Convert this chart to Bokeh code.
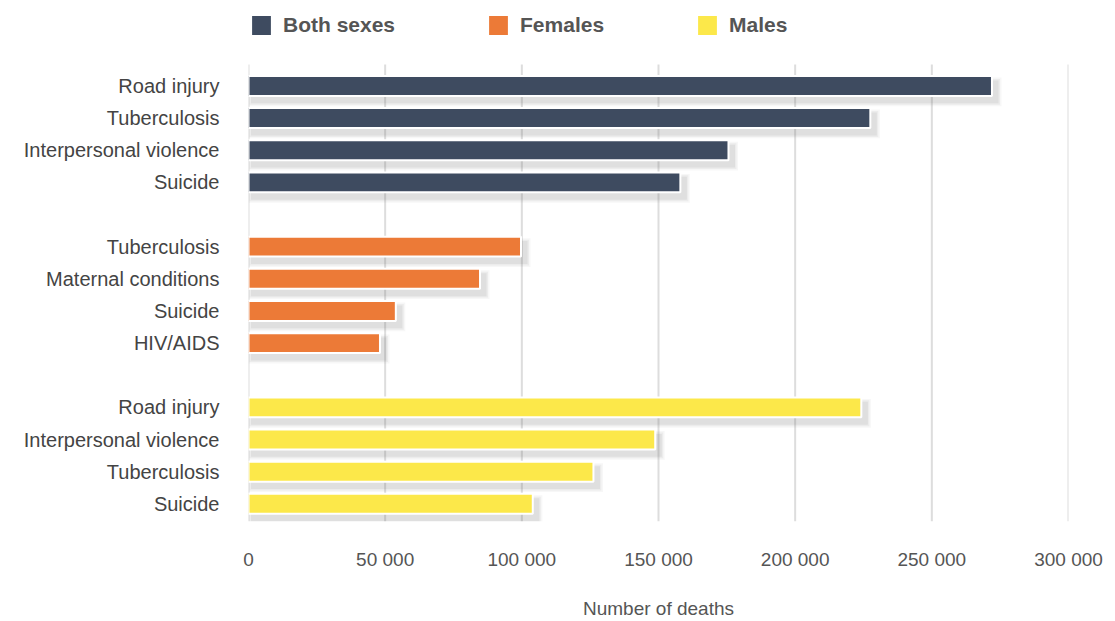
from bokeh.plotting import figure
from bokeh.models import ColumnDataSource, FixedTicker, Range1d, Legend, LegendItem
from bokeh.embed import file_html
from bokeh.resources import INLINE

# ---- data ----
groups = ["Both sexes", "Females", "Males"]
group_colors = ["#3e4b60", "#ec7a37", "#fce84a"]

both_causes = ["Road injury", "Tuberculosis", "Interpersonal violence", "Suicide"]
both_deaths = [272000, 227500, 175600, 158000]

female_causes = ["Tuberculosis", "Maternal conditions", "Suicide", "HIV/AIDS"]
female_deaths = [99700, 84700, 53900, 48100]

male_causes = ["Road injury", "Interpersonal violence", "Tuberculosis", "Suicide"]
male_deaths = [224200, 148800, 126200, 104000]

x_ticks = [0, 50000, 100000, 150000, 200000, 250000, 300000]
x_tick_labels = ["0", "50 000", "100 000", "150 000", "200 000", "250 000", "300 000"]

x_title = "Number of deaths"

FONT = "Liberation Sans"
group_causes = [both_causes, female_causes, male_causes]
group_deaths = [both_deaths, female_deaths, male_deaths]

W, H = 1115, 621
ROW_PX = 465 / 14.22
Y_BOTTOM = 13.55
Y_GRID_TOP = -0.67
Y_TOP = Y_GRID_TOP - 65 / ROW_PX   # extra room at the top for the legend
p = figure(width=W, height=H, output_backend="svg", toolbar_location=None,
           x_range=Range1d(0, 300000), y_range=Range1d(Y_BOTTOM, Y_TOP),
           min_border_left=248, min_border_right=47, min_border_top=0,
           min_border_bottom=91)
p.outline_line_color = None
p.background_fill_color = "white"
p.border_fill_color = "white"

# pixel -> data conversions for styling offsets
px_x = 300000 / 820.0
px_y = 1.0 / ROW_PX

# vertical grid lines at the x ticks (limited to the bar area)
p.segment(x0=x_ticks, x1=x_ticks, y0=[Y_GRID_TOP] * len(x_ticks),
          y1=[Y_BOTTOM] * len(x_ticks), line_color="#dddddd", line_width=2)

y_ticks = []
y_labels = {}
renderers = []
BAR_H = 0.62
for gi, (causes, deaths, color) in enumerate(zip(group_causes, group_deaths, group_colors)):
    ys = [gi * 5 + j for j in range(len(causes))]
    for y, c in zip(ys, causes):
        y_ticks.append(y)
        y_labels[y] = c
    # soft drop shadow (layers)
    for k, a in enumerate([0.06, 0.08, 0.10]):
        spread = (3 - k) * 1.5
        sh = ColumnDataSource(dict(
            y=[v + 6 * px_y for v in ys],
            left=[4 * px_x - spread * px_x for _ in ys],
            right=[d + (5 + spread) * px_x for d in deaths]))
        p.hbar(y="y", left="left", right="right", height=BAR_H + 2 * spread * px_y,
               source=sh, fill_color="#707070", fill_alpha=a, line_color=None)
    src = ColumnDataSource(dict(y=ys, right=deaths, cause=causes))
    r = p.hbar(y="y", left=0, right="right", height=BAR_H, source=src,
               fill_color=color, line_color="white", line_width=2)
    renderers.append(r)

# grid
p.ygrid.grid_line_color = None
p.xgrid.grid_line_color = None

# x axis
p.xaxis.ticker = FixedTicker(ticks=x_ticks)
p.xaxis.major_label_overrides = {t: l for t, l in zip(x_ticks, x_tick_labels)}
p.xaxis.axis_line_color = None
p.xaxis.major_tick_line_color = None
p.xaxis.minor_tick_line_color = None
p.xaxis.major_label_text_font = FONT
p.xaxis.major_label_text_font_size = "19px"
p.xaxis.major_label_text_color = "#555555"
p.xaxis.major_label_standoff = 21
p.xaxis.axis_label = x_title
p.xaxis.axis_label_text_font = FONT
p.xaxis.axis_label_text_font_size = "19px"
p.xaxis.axis_label_text_font_style = "normal"
p.xaxis.axis_label_text_color = "#555555"
p.xaxis.axis_label_standoff = 25

# y axis
p.yaxis.ticker = FixedTicker(ticks=y_ticks)
p.yaxis.major_label_overrides = y_labels
p.yaxis.axis_line_color = None
p.yaxis.major_tick_line_color = None
p.yaxis.minor_tick_line_color = None
p.yaxis.major_label_text_font = FONT
p.yaxis.major_label_text_font_size = "20px"
p.yaxis.major_label_text_color = "#444444"
p.yaxis.major_label_standoff = 23

# legend (inside the frame, in the reserved top strip)
items = [LegendItem(label=g, renderers=[r]) for g, r in zip(groups, renderers)]
legend = Legend(items=items, orientation="horizontal", location=(0, 483),
                glyph_width=26, glyph_height=26, label_standoff=9, spacing=90,
                padding=0, margin=0, border_line_color=None,
                background_fill_alpha=0, label_text_font=FONT,
                label_text_font_size="21px", label_text_font_style="bold",
                label_text_color="#555555")
p.add_layout(legend)

open("out.html", "w").write(file_html(p, INLINE))
